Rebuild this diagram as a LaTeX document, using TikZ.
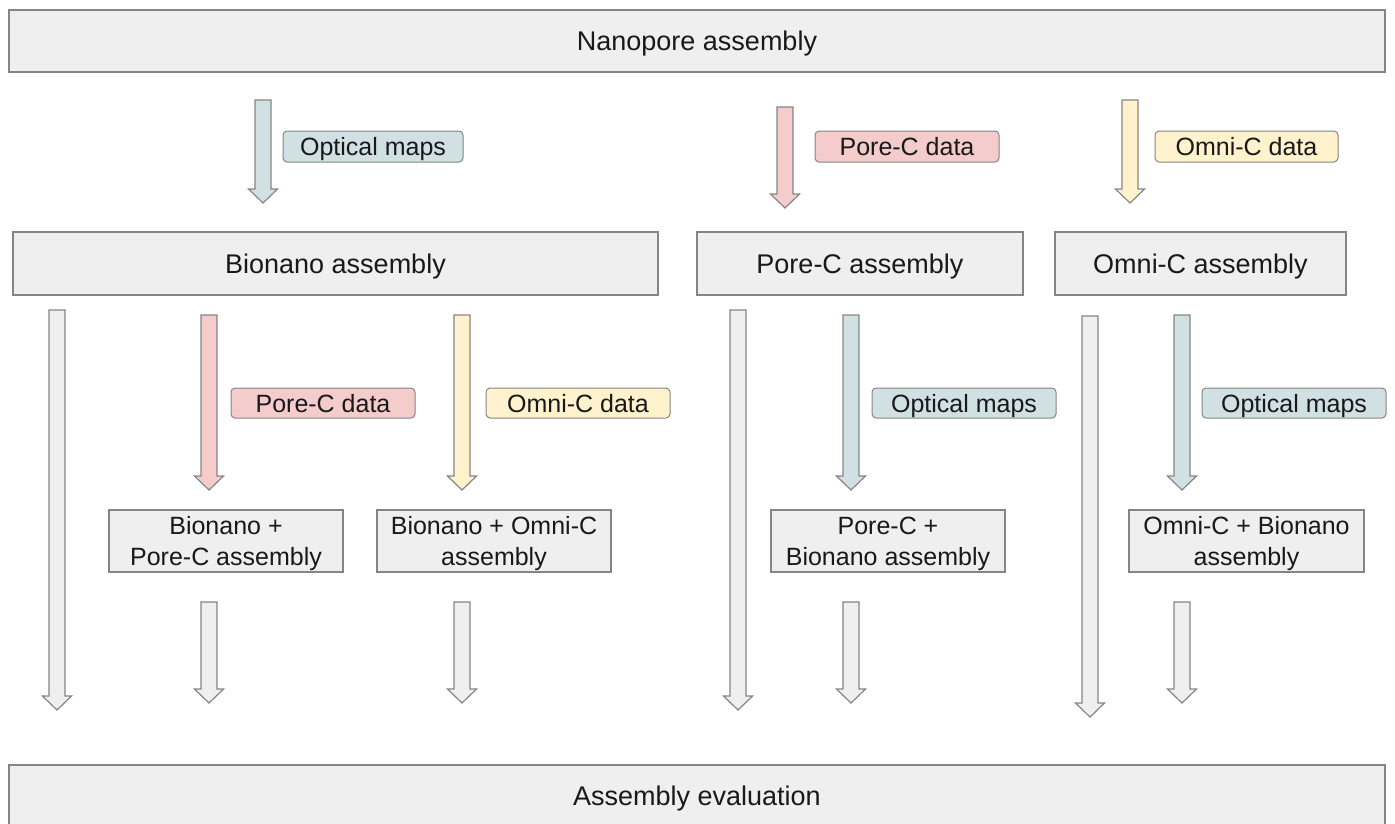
\documentclass[tikz,border=0pt]{standalone}
\usepackage{fontspec}
\setmainfont{Liberation Sans}
\definecolor{boxgray}{HTML}{EFEFEF}
\definecolor{edgegray}{HTML}{858585}
\definecolor{optblue}{HTML}{D0E0E3}
\definecolor{porepink}{HTML}{F4CCCC}
\definecolor{omniyellow}{HTML}{FFF2CC}
\newcommand\blockarrow[4]{\draw[barrow, fill=#4] ({#1-8},{#2}) -- ({#1+8},{#2}) -- ({#1+8},{#3-14}) -- ({#1+14.5},{#3-14}) -- ({#1},{#3}) -- ({#1-14.5},{#3-14}) -- ({#1-8},{#3-14}) -- cycle;}
\begin{document}
\begin{tikzpicture}[x=1pt,y=-1pt,
  box/.style={draw=edgegray, fill=boxgray, line width=1.2pt, inner sep=0pt, font=\fontsize{25}{31}\selectfont, align=center, text=black!90, text depth=0pt},
  bigbox/.style={box, font=\fontsize{27}{31}\selectfont},
  tag/.style={draw=edgegray, rounded corners=4pt, line width=1pt, inner sep=0pt, font=\fontsize{25}{28}\selectfont, text=black!90, text depth=0pt},
  barrow/.style={draw=edgegray, line width=1.2pt, line join=miter}]
\useasboundingbox (0,0) rectangle (1395,823);
% boxes
\node[bigbox, minimum width=1376, minimum height=62] (nano) at (697,41) {Nanopore assembly};
\node[bigbox, minimum width=645, minimum height=63] (bion) at (335.5,263.5) {Bionano assembly};
\node[bigbox, minimum width=326, minimum height=63] (pore) at (860,263.5) {Pore-C assembly};
\node[bigbox, minimum width=291, minimum height=63] (omni) at (1200.5,263.5) {Omni-C assembly};
\node[box, minimum width=234, minimum height=62] (bp) at (226,541) {Bionano +\\Pore-C assembly};
\node[box, minimum width=234, minimum height=62] (bo) at (494,541) {Bionano + Omni-C\\assembly};
\node[box, minimum width=234, minimum height=62] (pb) at (888,541) {Pore-C +\\Bionano assembly};
\node[box, minimum width=235, minimum height=62] (ob) at (1246.5,541) {Omni-C + Bionano\\assembly};
\node[bigbox, minimum width=1376, minimum height=62] (eval) at (697,796) {Assembly evaluation};
% tags
\node[tag, fill=optblue, minimum width=180, minimum height=31] (t1) at (373,146.5) {Optical maps};
\node[tag, fill=porepink, minimum width=184, minimum height=31] (t2) at (907,146.5) {Pore-C data};
\node[tag, fill=omniyellow, minimum width=183, minimum height=31] (t3) at (1246.5,146.5) {Omni-C data};
\node[tag, fill=porepink, minimum width=184, minimum height=30] (t4) at (323,403) {Pore-C data};
\node[tag, fill=omniyellow, minimum width=184, minimum height=30] (t5) at (578,403) {Omni-C data};
\node[tag, fill=optblue, minimum width=184, minimum height=30] (t6) at (964,403) {Optical maps};
\node[tag, fill=optblue, minimum width=184, minimum height=30] (t7) at (1294,403) {Optical maps};
% arrows
\blockarrow{263}{100}{203}{optblue}
\blockarrow{785}{107}{208}{porepink}
\blockarrow{1130}{100}{203}{omniyellow}
\blockarrow{57}{310}{710}{boxgray}
\blockarrow{209}{315}{490}{porepink}
\blockarrow{462}{315}{490}{omniyellow}
\blockarrow{738}{310}{710}{boxgray}
\blockarrow{851}{315}{490}{optblue}
\blockarrow{1090}{316}{717}{boxgray}
\blockarrow{1182}{315}{490}{optblue}
\blockarrow{209}{602}{703}{boxgray}
\blockarrow{462}{602}{703}{boxgray}
\blockarrow{851}{602}{703}{boxgray}
\blockarrow{1182}{602}{703}{boxgray}
\end{tikzpicture}
\end{document}
